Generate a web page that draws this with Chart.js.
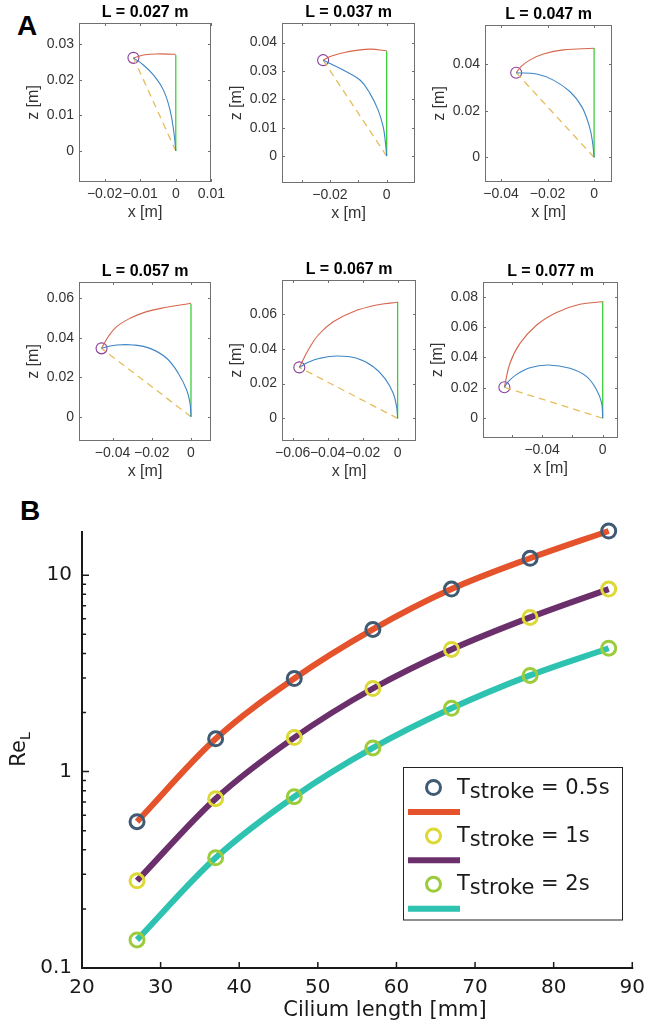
<!DOCTYPE html>
<html>
<head>
<meta charset="utf-8">
<title>Cilium shape and Reynolds number</title>
<script src="https://cdn.jsdelivr.net/npm/chart.js@4.4.1/dist/chart.umd.min.js"></script>
<style>
  body { margin: 0; background: #fff; }
  #page { position: relative; width: 653px; height: 1023px; overflow: hidden; background: #fff; }
  #page canvas { position: absolute; }
  .tag { position: absolute; font: bold 28px "Liberation Sans", Arial, sans-serif; line-height: 28px; color: #000; }
</style>
</head>
<body>
<div id="page">
  <div class="tag" style="left:17px; top:12px">A</div>
  <div class="tag" style="left:20px; top:497px">B</div>
  <canvas id="reChart" width="653" height="533" style="left:0; top:490px"></canvas>
</div>
<script>
// ---------- Panel A data (metres) ----------
const lengthsM = [0.027, 0.037, 0.047, 0.057, 0.067, 0.077];

// bent cilium (blue), from the base to the tip
const bent027 = [[0, 0], [-0.0005, 0.005], [-0.0016, 0.0115], [-0.0035, 0.0172], [-0.0063, 0.0214], [-0.0091, 0.0242], [-0.0119, 0.0262]];
const bent037 = [[0, 0], [-0.0004, 0.0045], [-0.0012, 0.0103], [-0.003, 0.0162], [-0.0059, 0.0221], [-0.0094, 0.0268], [-0.0153, 0.0303], [-0.0224, 0.0338]];
const bent047 = [[0, 0], [-0.0006, 0.006], [-0.002, 0.0132], [-0.0053, 0.0218], [-0.0103, 0.0282], [-0.0175, 0.0332], [-0.0247, 0.0358], [-0.0335, 0.0364]];
const bent057 = [[0, 0], [-0.0005, 0.0068], [-0.0022, 0.0135], [-0.0065, 0.022], [-0.0124, 0.0296], [-0.0209, 0.0346], [-0.0294, 0.0363], [-0.0379, 0.0363], [-0.0429, 0.0354], [-0.0456, 0.0346]];
const bent067 = [[0, 0], [-0.0006, 0.0067], [-0.0025, 0.0144], [-0.0073, 0.023], [-0.0139, 0.0297], [-0.0234, 0.0345], [-0.0349, 0.0358], [-0.0444, 0.0345], [-0.0511, 0.0322], [-0.0562, 0.0293]];
const bent077 = [[0, 0], [-0.0007, 0.0099], [-0.004, 0.0186], [-0.0106, 0.0274], [-0.0216, 0.0329], [-0.0359, 0.0351], [-0.048, 0.0333], [-0.0568, 0.0289], [-0.0623, 0.0241], [-0.0649, 0.0204]];

// path of the tip (red), from the upright position to the bent tip
const tipPath027 = [[0, 0.0272], [-0.0053, 0.0273], [-0.0091, 0.027], [-0.0119, 0.0262]];
const tipPath037 = [[0, 0.0371], [-0.0059, 0.0377], [-0.0141, 0.0367], [-0.0194, 0.0353], [-0.0224, 0.0338]];
const tipPath047 = [[0, 0.0469], [-0.0132, 0.0462], [-0.0218, 0.0444], [-0.0275, 0.0419], [-0.0311, 0.0393], [-0.0335, 0.0364]];
const tipPath057 = [[0, 0.0574], [-0.0124, 0.0554], [-0.0226, 0.0532], [-0.0311, 0.0498], [-0.0379, 0.0456], [-0.0422, 0.0405], [-0.0456, 0.0346]];
const tipPath067 = [[0, 0.0667], [-0.012, 0.0651], [-0.0254, 0.0613], [-0.0368, 0.0555], [-0.0454, 0.0479], [-0.0511, 0.0393], [-0.0562, 0.0293]];
const tipPath077 = [[0, 0.0767], [-0.015, 0.075], [-0.0304, 0.0697], [-0.0436, 0.0614], [-0.0546, 0.0493], [-0.0612, 0.0362], [-0.0649, 0.0204]];

const bentShapes = [bent027, bent037, bent047, bent057, bent067, bent077];
const tipPaths = [tipPath027, tipPath037, tipPath047, tipPath057, tipPath067, tipPath077];

// axis ranges and ticks of each small plot
const xLimA = [[-0.0272, 0.0099], [-0.0369, 0.01], [-0.0469, 0.0077], [-0.0571, 0.0102], [-0.0661, 0.0105], [-0.079, 0.0101]];
const yLimA = [[-0.0087, 0.036], [-0.0095, 0.0469], [-0.0106, 0.0569], [-0.0123, 0.0682], [-0.013, 0.0795], [-0.013, 0.0897]];
const xTicksA = [[-0.02, -0.01, 0, 0.01], [-0.03, -0.02, -0.01, 0], [-0.04, -0.02, 0], [-0.04, -0.02, 0], [-0.06, -0.04, -0.02, 0], [-0.06, -0.04, -0.02, 0]];
const xLabeledA = [[-0.02, -0.01, 0, 0.01], [-0.02, 0], [-0.04, -0.02, 0], [-0.04, -0.02, 0], [-0.06, -0.04, -0.02, 0], [-0.04, 0]];
const yTicksA = [[0, 0.01, 0.02, 0.03], [0, 0.01, 0.02, 0.03, 0.04], [0, 0.02, 0.04], [0, 0.02, 0.04, 0.06], [0, 0.02, 0.04, 0.06], [0, 0.02, 0.04, 0.06, 0.08]];

// ---------- Panel B data ----------
const ciliumLengthMm = [27, 37, 47, 57, 67, 77, 87];
const reStroke05 = [0.556, 1.47, 2.98, 5.3, 8.5, 12.2, 16.8];
const reStroke1 = [0.278, 0.728, 1.49, 2.65, 4.19, 6.1, 8.5];
const reStroke2 = [0.139, 0.364, 0.745, 1.32, 2.1, 3.09, 4.25];
const strokeLabels = ['0.5s', '1s', '2s'];
const xTicksB = [20, 30, 40, 50, 60, 70, 80, 90];
const yMajorB = [0.1, 1, 10];
const yMajorLabelsB = ['0.1', '1', '10'];
const yMinorB = [0.2, 0.3, 0.4, 0.5, 0.6, 0.7, 0.8, 0.9, 2, 3, 4, 5, 6, 7, 8, 9];

// ---------- layout ----------
// plot boxes of panel A in page pixels: left, top, width, height
const plotBoxes = [[79, 23, 132, 159], [282, 23, 133, 160], [485, 25, 127, 157], [79, 282, 132, 159], [282, 280, 134, 161], [483, 282, 135, 156]];
const FONT_A = '"Liberation Sans", Arial, sans-serif';
const FONT_B = '"DejaVu Sans", Verdana, sans-serif';

const toXY = pts => pts.map(p => ({x: p[0], y: p[1]}));
const fmtA = v => v === 0 ? '0' : (v < 0 ? '\u2212' : '') + Math.abs(v);

// box, inward ticks and labels for the small plots
const matlabBox = {
  id: 'matlabBox',
  afterDraw(chart, args, opts) {
    const {ctx, chartArea: a, scales: {x, y}} = chart;
    ctx.save();
    ctx.strokeStyle = '#707070';
    ctx.lineWidth = 1;
    ctx.strokeRect(a.left + 0.5, a.top + 0.5, a.right - a.left - 1, a.bottom - a.top - 1);
    ctx.beginPath();
    x.ticks.forEach(t => {
      const px = Math.round(x.getPixelForValue(t.value)) + 0.5;
      ctx.moveTo(px, a.bottom); ctx.lineTo(px, a.bottom - 3);
      ctx.moveTo(px, a.top); ctx.lineTo(px, a.top + 3);
    });
    y.ticks.forEach(t => {
      const py = Math.round(y.getPixelForValue(t.value)) + 0.5;
      ctx.moveTo(a.left, py); ctx.lineTo(a.left + 3, py);
      ctx.moveTo(a.right, py); ctx.lineTo(a.right - 3, py);
    });
    ctx.stroke();

    const cx = (a.left + a.right) / 2, cy = (a.top + a.bottom) / 2;
    ctx.fillStyle = '#000';
    ctx.textAlign = 'center';
    ctx.textBaseline = 'alphabetic';
    ctx.font = 'bold 16px ' + FONT_A;
    ctx.fillText(opts.title, cx, a.top - 6);
    ctx.fillStyle = '#333';
    ctx.font = '16px ' + FONT_A;
    ctx.fillText('x [m]', cx, a.bottom + 35);
    ctx.translate(a.left - 41, cy);
    ctx.rotate(-Math.PI / 2);
    ctx.fillText('z [m]', 0, 0);
    ctx.restore();
  }
};

plotBoxes.forEach((box, i) => {
  const padL = 76, padT = 26, padR = 22, padB = 46;
  const cv = document.createElement('canvas');
  cv.width = box[2] + padL + padR;
  cv.height = box[3] + padT + padB;
  cv.style.left = (box[0] - padL) + 'px';
  cv.style.top = (box[1] - padT) + 'px';
  document.getElementById('page').appendChild(cv);

  const bent = bentShapes[i];
  const tip = bent[bent.length - 1];
  const L = lengthsM[i];
  const axisFont = {family: FONT_A, size: 14};

  new Chart(cv.getContext('2d'), {
    type: 'scatter',
    data: {
      datasets: [
        {data: toXY(bent), borderColor: '#3d86c6', borderWidth: 1.1, tension: 0.4, showLine: true, pointRadius: 0},
        {data: toXY(tipPaths[i]), borderColor: '#d6664c', borderWidth: 1.1, tension: 0.4, showLine: true, pointRadius: 0},
        {data: toXY([[0, 0], [0, L]]), borderColor: '#3ccf3c', borderWidth: 1.3, showLine: true, pointRadius: 0},
        {data: toXY([[0, 0], tip]), borderColor: '#e6bd5c', borderWidth: 1.3, borderDash: [7, 5], showLine: true, pointRadius: 0},
        {data: toXY([tip]), pointRadius: 5.5, pointBorderWidth: 1.1, pointBorderColor: '#8a3f99', pointBackgroundColor: 'rgba(0,0,0,0)', showLine: false}
      ]
    },
    options: {
      responsive: false,
      animation: false,
      devicePixelRatio: 1,
      layout: {padding: {left: 0, top: padT, right: padR, bottom: 0}},
      plugins: {legend: {display: false}, tooltip: {enabled: false}, matlabBox: {title: 'L = ' + L + ' m'}},
      scales: {
        x: {
          type: 'linear', min: xLimA[i][0], max: xLimA[i][1],
          afterBuildTicks: s => { s.ticks = xTicksA[i].map(v => ({value: v})); },
          afterFit: s => { s.height = padB; },
          grid: {display: false, drawTicks: false}, border: {display: false},
          ticks: {autoSkip: false, maxRotation: 0, padding: 4, color: '#333', font: axisFont,
                  callback: v => xLabeledA[i].includes(v) ? fmtA(v) : ''}
        },
        y: {
          type: 'linear', min: yLimA[i][0], max: yLimA[i][1],
          afterBuildTicks: s => { s.ticks = yTicksA[i].map(v => ({value: v})); },
          afterFit: s => { s.width = padL; },
          grid: {display: false, drawTicks: false}, border: {display: false},
          ticks: {autoSkip: false, padding: 5, color: '#333', font: axisFont, callback: v => fmtA(v)}
        }
      }
    },
    plugins: [matlabBox]
  });
});

// ---------- Panel B ----------
const seriesB = [
  {values: reStroke05, line: '#e4532b', ring: '#3f5a72'},
  {values: reStroke1, line: '#6b2f6c', ring: '#dcd835'},
  {values: reStroke2, line: '#2dc3b0', ring: '#9ccb3b'}
];
const toPoints = vals => vals.map((v, i) => ({x: ciliumLengthMm[i], y: v}));

const lineSets = seriesB.map((s, i) => ({
  label: strokeLabels[i], data: toPoints(s.values), borderColor: s.line, borderWidth: 6,
  cubicInterpolationMode: 'monotone', pointRadius: 0, clip: false, order: 1
}));
const ringSets = seriesB.map((s, i) => ({
  label: strokeLabels[i], data: toPoints(s.values), showLine: false, pointRadius: 7,
  pointBorderWidth: 3, pointBorderColor: s.ring, pointBackgroundColor: 'rgba(0,0,0,0)', clip: false, order: 0
}));

const axesB = {
  id: 'axesB',
  beforeDatasetsDraw(chart) {
    const {ctx, chartArea: a, scales: {x, y}} = chart;
    ctx.save();
    ctx.strokeStyle = '#1a1a1a';
    ctx.lineWidth = 2;
    ctx.beginPath();
    ctx.moveTo(a.left, a.top); ctx.lineTo(a.left, a.bottom); ctx.lineTo(a.right + 1, a.bottom);
    ctx.stroke();
    ctx.lineWidth = 1.5;
    ctx.beginPath();
    xTicksB.forEach(v => { const px = x.getPixelForValue(v); ctx.moveTo(px, a.bottom); ctx.lineTo(px, a.bottom - 6); });
    yMajorB.forEach(v => { const py = y.getPixelForValue(v); ctx.moveTo(a.left, py); ctx.lineTo(a.left + 7, py); });
    yMinorB.forEach(v => { const py = y.getPixelForValue(v); ctx.moveTo(a.left, py); ctx.lineTo(a.left + 4, py); });
    ctx.stroke();
    ctx.restore();
  },
  afterDraw(chart) {
    const {ctx, chartArea: a} = chart;
    ctx.save();
    ctx.fillStyle = '#1a1a1a';
    ctx.textBaseline = 'alphabetic';

    // x title
    ctx.font = '21px ' + FONT_B;
    ctx.textAlign = 'center';
    ctx.fillText('Cilium length [mm]', 385, a.bottom + 48);

    // y title Re_L
    ctx.textAlign = 'left';
    const wRe = ctx.measureText('Re').width;
    ctx.font = '14px ' + FONT_B;
    const wL = ctx.measureText('L').width;
    const cy = (a.top + a.bottom) / 2;
    ctx.translate(25, cy + (wRe + wL) / 2);
    ctx.rotate(-Math.PI / 2);
    ctx.font = '21px ' + FONT_B;
    ctx.fillText('Re', 0, 0);
    ctx.font = '14px ' + FONT_B;
    ctx.fillText('L', wRe, 5);
    ctx.setTransform(1, 0, 0, 1, 0, 0);

    // legend
    const lx = 403.5, ly = 277.5, lw = 219, lh = 152.5;
    ctx.fillStyle = '#fff';
    ctx.fillRect(lx, ly, lw, lh);
    ctx.strokeStyle = '#222';
    ctx.lineWidth = 1;
    ctx.strokeRect(lx, ly, lw, lh);
    seriesB.forEach((s, i) => {
      const ry = 297.5 + i * 48.4;
      ctx.beginPath();
      ctx.arc(433.5, ry, 7, 0, Math.PI * 2);
      ctx.strokeStyle = s.ring;
      ctx.lineWidth = 3;
      ctx.stroke();
      ctx.beginPath();
      ctx.moveTo(408, ry + 24.4); ctx.lineTo(460, ry + 24.4);
      ctx.strokeStyle = s.line;
      ctx.lineWidth = 6;
      ctx.stroke();

      ctx.fillStyle = '#1a1a1a';
      ctx.font = '21px ' + FONT_B;
      let tx = 457;
      ctx.fillText('T', tx, ry + 6);
      tx += ctx.measureText('T').width;
      ctx.fillText('stroke', tx, ry + 10);
      tx += ctx.measureText('stroke').width;
      ctx.fillText(' = ' + strokeLabels[i], tx, ry + 6);
    });
    ctx.restore();
  }
};

new Chart(document.getElementById('reChart').getContext('2d'), {
  type: 'line',
  data: {datasets: ringSets.concat(lineSets)},
  options: {
    responsive: false,
    animation: false,
    devicePixelRatio: 1,
    layout: {padding: {left: 0, top: 41, right: 17, bottom: 0}},
    plugins: {legend: {display: false}, tooltip: {enabled: false}},
    scales: {
      x: {
        type: 'linear', min: 20, max: 90,
        afterBuildTicks: s => { s.ticks = xTicksB.map(v => ({value: v})); },
        afterFit: s => { s.height = 55; },
        grid: {display: false, drawTicks: false}, border: {display: false},
        ticks: {autoSkip: false, maxRotation: 0, padding: 8, color: '#1a1a1a', font: {family: FONT_B, size: 20}}
      },
      y: {
        type: 'logarithmic', min: 0.1, max: 16.8,
        afterBuildTicks: s => { s.ticks = yMajorB.concat(yMinorB).sort((p, q) => p - q).map(v => ({value: v})); },
        afterFit: s => { s.width = 82; },
        grid: {display: false, drawTicks: false}, border: {display: false},
        ticks: {autoSkip: false, padding: 10, color: '#1a1a1a', font: {family: FONT_B, size: 20},
                callback: v => { const k = yMajorB.indexOf(v); return k >= 0 ? yMajorLabelsB[k] : ''; }}
      }
    }
  },
  plugins: [axesB]
});
</script>
</body>
</html>
